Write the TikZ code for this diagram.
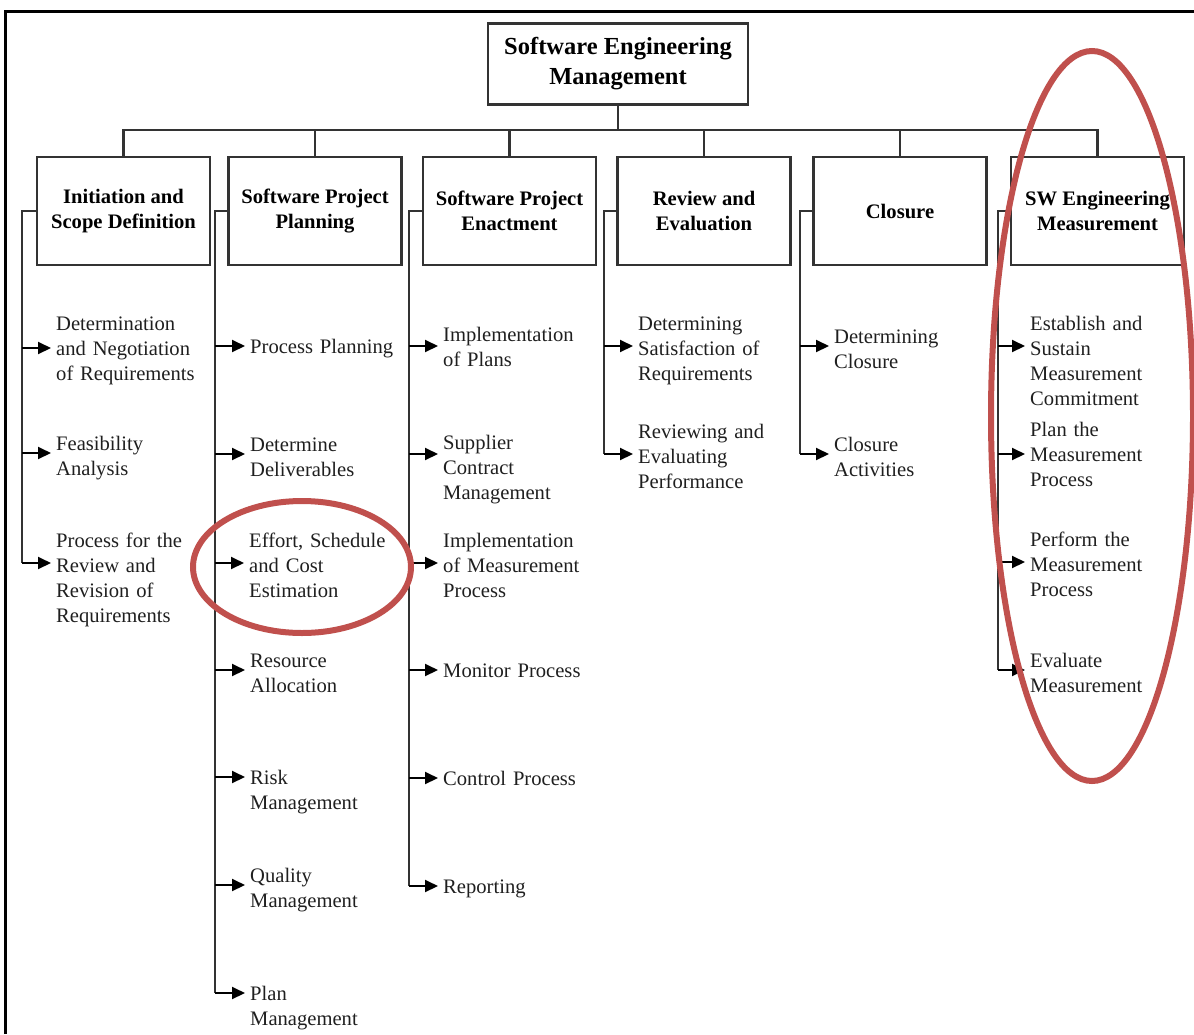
\documentclass[tikz,border=0pt]{standalone}
\usepackage{fontspec}
\setmainfont{Liberation Serif}
\usetikzlibrary{arrows.meta}
\definecolor{boxline}{HTML}{333333}
\definecolor{bodytext}{HTML}{1F1F1F}
\definecolor{ringred}{HTML}{C0504D}
\tikzset{
  topbox/.style={draw=boxline, line width=2.2pt, align=center, inner sep=0pt,
    font=\fontsize{24.5}{30}\selectfont\bfseries, minimum width=260pt, minimum height=81pt},
  hdrbox/.style={draw=boxline, line width=2.2pt, align=center, inner sep=0pt,
    font=\fontsize{20.6}{25}\selectfont\bfseries, minimum width=173pt, minimum height=108pt},
  item/.style={anchor=base west, text width=165pt, align=left, inner xsep=5pt, inner ysep=0pt,
    font=\fontsize{20.6}{25}\selectfont, text=bodytext},
  conn/.style={draw=boxline, line width=2.2pt},
  arr/.style={draw=black, line width=2pt, -{Triangle[length=13pt,width=12pt]}},
  ring/.style={draw=ringred, line width=6pt},
  frameline/.style={draw=black, line width=3pt}
}
\begin{document}
\begin{tikzpicture}[x=1pt,y=-1pt]
\useasboundingbox (0,0) rectangle (1194,1034);
% outer frame
\draw[frameline] (5,1034) -- (5,11) -- (1194,11);

% top box
\node[topbox] (top) at (618,64) {Software Engineering\\Management};

% headers
\node[hdrbox] (h1) at (123.5,211) {Initiation and\\Scope Definition};
\node[hdrbox] (h2) at (315,211) {Software Project\\Planning};
\node[hdrbox] (h3) at (509.5,211) {Software Project\\Enactment};
\node[hdrbox] (h4) at (704,211) {Review and\\Evaluation};
\node[hdrbox] (h5) at (900,211) {Closure};
\node[hdrbox] (h6) at (1097.5,211) {SW Engineering\\Measurement};

% bus
\coordinate (bus) at (618,130);
\draw[conn] (top.south) -- (bus);
\draw[conn] (h1.north) -- (h1.north |- bus) -- (h6.north |- bus) -- (h6.north);
\foreach \h in {h2,h3,h4,h5} \draw[conn] (\h.north) -- (\h.north |- bus);

% spine coordinates
\coordinate (s1) at (22,211);
\coordinate (s2) at (215,211);
\coordinate (s3) at (409,211);
\coordinate (s4) at (604,211);
\coordinate (s5) at (800,211);
\coordinate (s6) at (998,211);

% column 1
\node[item] (c1a) at (51,330) {Determination\\and Negotiation\\of Requirements};
\node[item] (c1b) at (51,450) {Feasibility\\Analysis};
\node[item] (c1c) at (51,547) {Process for the\\Review and\\Revision of\\Requirements};
\draw[conn] (h1.west) -- (s1) -- (s1 |- 0,563);
\draw[arr] (s1 |- 0,348) -- (c1a.west |- 0,348);
\draw[arr] (s1 |- 0,453) -- (c1b.west |- 0,453);
\draw[arr] (s1 |- 0,563) -- (c1c.west |- 0,563);

% column 2
\node[item] (c2a) at (245,353) {Process Planning};
\node[item] (c2b) at (245,451) {Determine\\Deliverables};
\node[item] (c2c) at (244,547) {Effort, Schedule\\and Cost\\Estimation};
\node[item] (c2d) at (245,667) {Resource\\Allocation};
\node[item] (c2e) at (245,784) {Risk\\Management};
\node[item] (c2f) at (245,882) {Quality\\Management};
\node[item] (c2g) at (245,1000) {Plan\\Management};
\draw[conn] (h2.west) -- (s2) -- (s2 |- 0,993);
\draw[arr] (s2 |- 0,346) -- (c2a.west |- 0,346);
\draw[arr] (s2 |- 0,454) -- (c2b.west |- 0,454);
\draw[arr] (s2 |- 0,563) -- (c2c.west |- 0,563);
\draw[arr] (s2 |- 0,670) -- (c2d.west |- 0,670);
\draw[arr] (s2 |- 0,777) -- (c2e.west |- 0,777);
\draw[arr] (s2 |- 0,885) -- (c2f.west |- 0,885);
\draw[arr] (s2 |- 0,993) -- (c2g.west |- 0,993);

% column 3
\node[item] (c3a) at (438,341) {Implementation\\of Plans};
\node[item] (c3b) at (438,449) {Supplier\\Contract\\Management};
\node[item] (c3c) at (438,547) {Implementation\\of Measurement\\Process};
\node[item] (c3d) at (438,677) {Monitor Process};
\node[item] (c3e) at (438,785) {Control Process};
\node[item] (c3f) at (438,893) {Reporting};
\draw[conn] (h3.west) -- (s3) -- (s3 |- 0,886);
\draw[arr] (s3 |- 0,346) -- (c3a.west |- 0,346);
\draw[arr] (s3 |- 0,454) -- (c3b.west |- 0,454);
\draw[arr] (s3 |- 0,563) -- (c3c.west |- 0,563);
\draw[arr] (s3 |- 0,670) -- (c3d.west |- 0,670);
\draw[arr] (s3 |- 0,778) -- (c3e.west |- 0,778);
\draw[arr] (s3 |- 0,886) -- (c3f.west |- 0,886);

% column 4
\node[item] (c4a) at (633,330) {Determining\\Satisfaction of\\Requirements};
\node[item] (c4b) at (633,438) {Reviewing and\\Evaluating\\Performance};
\draw[conn] (h4.west) -- (s4) -- (s4 |- 0,454);
\draw[arr] (s4 |- 0,346) -- (c4a.west |- 0,346);
\draw[arr] (s4 |- 0,454) -- (c4b.west |- 0,454);

% column 5
\node[item] (c5a) at (829,343) {Determining\\Closure};
\node[item] (c5b) at (829,451) {Closure\\Activities};
\draw[conn] (h5.west) -- (s5) -- (s5 |- 0,454);
\draw[arr] (s5 |- 0,346) -- (c5a.west |- 0,346);
\draw[arr] (s5 |- 0,454) -- (c5b.west |- 0,454);

% column 6
\node[item] (c6a) at (1025,330) {Establish and\\Sustain\\Measurement\\Commitment};
\node[item] (c6b) at (1025,436) {Plan the\\Measurement\\Process};
\node[item] (c6c) at (1025,546) {Perform the\\Measurement\\Process};
\node[item] (c6d) at (1025,667) {Evaluate\\Measurement};
\draw[conn] (h6.west) -- (s6) -- (s6 |- 0,670);
\draw[arr] (s6 |- 0,346) -- (c6a.west |- 0,346);
\draw[arr] (s6 |- 0,454) -- (c6b.west |- 0,454);
\draw[arr] (s6 |- 0,562) -- (c6c.west |- 0,562);
\draw[arr] (s6 |- 0,670) -- (c6d.west |- 0,670);

% red highlight rings
\draw[ring] (302,567) ellipse [x radius=109pt, y radius=66pt];
\draw[ring] (1092,416) ellipse [x radius=101pt, y radius=365pt];
\end{tikzpicture}
\end{document}
